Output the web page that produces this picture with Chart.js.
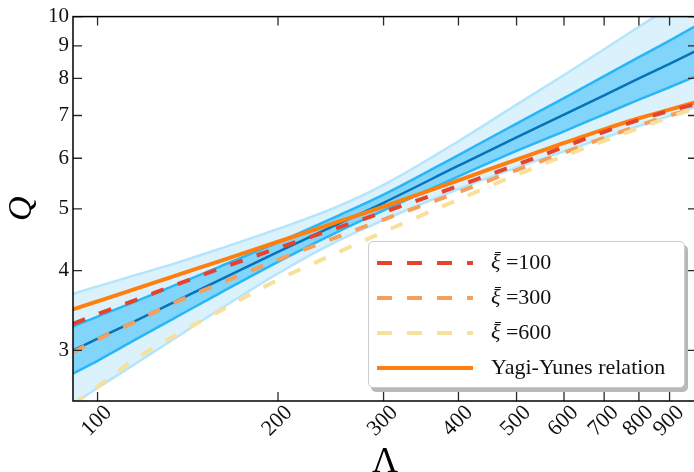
<!DOCTYPE html>
<html>
<head>
<meta charset="utf-8">
<script src="https://cdn.jsdelivr.net/npm/chart.js@4.4.1/dist/chart.umd.min.js"></script>
<style>
html,body{margin:0;padding:0;background:#fff;overflow:hidden;width:694px;height:472px;}
#wrap{position:absolute;left:0;top:0;width:700px;height:472px;}
#legend{position:absolute;left:368px;top:241px;width:317px;height:147px;box-sizing:border-box;border:1px solid #cccccc;border-radius:5px;background:#fff;box-shadow:3px 4px 0 #b8b8b8;font-family:"Liberation Serif","Times New Roman",serif;font-size:22px;color:#111;}
.lrow{position:absolute;left:0;width:100%;height:30px;}
.lrow svg{position:absolute;left:8px;top:11px;}
.lrow span.t{position:absolute;left:122px;top:0px;white-space:nowrap;line-height:28px;}
.xi{position:relative;display:inline-block;}
.xi .bar{position:absolute;left:4px;top:4px;width:6px;height:1.4px;background:#111;}
</style>
</head>
<body>
<div id="wrap"><canvas id="c"></canvas></div>
<div id="legend"></div>
<script>
// ---- data ----
const lam = [91, 100, 115, 135, 160, 200, 250, 300, 400, 500, 600, 700, 800, 900, 1000];
const qCenter     = [3.00, 3.13, 3.33, 3.58, 3.87, 4.28, 4.72, 5.11, 5.84, 6.47, 7.02, 7.53, 8.00, 8.43, 8.85];
const qInnerUpper = [3.27, 3.39, 3.57, 3.80, 4.06, 4.43, 4.86, 5.26, 6.07, 6.80, 7.45, 8.07, 8.64, 9.17, 9.69];
const qInnerLower = [2.76, 2.89, 3.11, 3.38, 3.69, 4.13, 4.59, 4.97, 5.62, 6.16, 6.61, 7.03, 7.41, 7.75, 8.08];
const qOuterUpper = [3.68, 3.78, 3.93, 4.11, 4.33, 4.65, 5.03, 5.45, 6.38, 7.28, 8.10, 8.89, 9.64, 10.34, 11.04];
const qOuterLower = [2.47, 2.62, 2.85, 3.14, 3.48, 3.96, 4.44, 4.80, 5.37, 5.80, 6.15, 6.46, 6.74, 6.99, 7.23];
const qYagiYunes  = [3.48, 3.58, 3.74, 3.93, 4.14, 4.44, 4.76, 5.04, 5.54, 5.97, 6.34, 6.66, 6.93, 7.15, 7.35];
const qXi100      = [3.30, 3.42, 3.59, 3.80, 4.03, 4.34, 4.66, 4.94, 5.43, 5.86, 6.25, 6.60, 6.89, 7.12, 7.30];
const qXi300      = [2.98, 3.12, 3.32, 3.57, 3.82, 4.16, 4.51, 4.81, 5.31, 5.75, 6.12, 6.46, 6.75, 7.00, 7.20];
const qXi600      = [2.47, 2.63, 2.90, 3.17, 3.46, 3.87, 4.26, 4.60, 5.17, 5.65, 6.05, 6.39, 6.69, 6.96, 7.20];
const xTicks = [100, 200, 300, 400, 500, 600, 700, 800, 900];
const yTicks = [3, 4, 5, 6, 7, 8, 9, 10];
const legendLabels = ['\u03BE\u0304 =100', '\u03BE\u0304 =300', '\u03BE\u0304 =600', 'Yagi-Yunes relation'];

const pts = arr => lam.map((l, i) => ({x: l, y: arr[i]}));
const serif = '"Liberation Serif","Times New Roman",serif';

function line(data, color, width, order, extra) {
  return Object.assign({
    data: pts(data), borderColor: color, borderWidth: width, pointRadius: 0,
    fill: false, order: order, cubicInterpolationMode: 'monotone'
  }, extra || {});
}

const datasets = [
  line(qOuterUpper, '#b3e5fc', 2.5, 90, {fill: '+1', backgroundColor: '#dbf1fc'}),
  line(qOuterLower, '#b3e5fc', 2.5, 89),
  line(qInnerUpper, '#29b6f6', 2.5, 80, {fill: '+1', backgroundColor: '#81d4fa'}),
  line(qInnerLower, '#29b6f6', 2.5, 79),
  line(qCenter, '#0672b8', 2.5, 70),
  line(qYagiYunes, '#ff7f0e', 4, 60, {label: legendLabels[3], legendRank: 3}),
  line(qXi100, '#e5432d', 4, 50, {borderDash: [13, 15], label: legendLabels[0], legendRank: 0}),
  line(qXi300, '#f5a05a', 4, 40, {borderDash: [13, 15], label: legendLabels[1], legendRank: 1}),
  line(qXi600, '#f8df9a', 4, 30, {borderDash: [13, 15], label: legendLabels[2], legendRank: 2})
];

const frameTicks = {
  id: 'frameTicks',
  afterDatasetsDraw(chart) {
    const {ctx, chartArea: {left, right, top, bottom}, scales: {x, y}} = chart;
    ctx.save();
    ctx.strokeStyle = '#2a2a2a';
    ctx.lineWidth = 1.3;
    ctx.beginPath();
    xTicks.forEach(v => {
      const p = x.getPixelForValue(v);
      ctx.moveTo(p, bottom); ctx.lineTo(p, bottom - 9);
      ctx.moveTo(p, top); ctx.lineTo(p, top + 9);
    });
    yTicks.forEach(v => {
      const p = y.getPixelForValue(v);
      ctx.moveTo(left, p); ctx.lineTo(left + 9, p);
      ctx.moveTo(right, p); ctx.lineTo(right - 9, p);
    });
    ctx.stroke();
    ctx.strokeStyle = '#000';
    ctx.lineWidth = 1.5;
    ctx.strokeRect(left, top, right - left, bottom - top);
    ctx.restore();
  }
};

const htmlLegend = {
  id: 'htmlLegend',
  afterUpdate(chart) {
    const box = document.getElementById('legend');
    box.innerHTML = '';
    const items = chart.data.datasets.filter(d => d.label).sort((a, b) => a.legendRank - b.legendRank);
    items.forEach((d, i) => {
      const row = document.createElement('div');
      row.className = 'lrow';
      row.style.top = (6 + i * 35) + 'px';
      const dash = d.borderDash ? 'stroke-dasharray="15 15"' : '';
      row.innerHTML = '<svg width="98" height="8"><line x1="0" y1="4" x2="96" y2="4" stroke="' + d.borderColor +
        '" stroke-width="' + d.borderWidth + '" ' + dash + '/></svg>';
      const t = document.createElement('span');
      t.className = 't';
      if (d.label.charAt(0) === '\u03BE') {
        const xi = document.createElement('span');
        xi.className = 'xi';
        const it = document.createElement('i');
        it.textContent = '\u03BE';
        const bar = document.createElement('b');
        bar.className = 'bar';
        xi.appendChild(it);
        xi.appendChild(bar);
        t.appendChild(xi);
        t.appendChild(document.createTextNode(d.label.slice(2)));
      } else {
        t.textContent = d.label;
      }
      row.appendChild(t);
      box.appendChild(row);
    });
  }
};

new Chart(document.getElementById('c'), {
  type: 'line',
  data: {datasets: datasets},
  plugins: [frameTicks, htmlLegend],
  options: {
    responsive: true,
    maintainAspectRatio: false,
    animation: false,
    devicePixelRatio: 1,
    layout: {padding: {top: 13, right: 3, left: 0, bottom: 0}},
    plugins: {legend: {display: false}, tooltip: {enabled: false}},
    scales: {
      x: {
        type: 'logarithmic', min: 91, max: 1000,
        afterBuildTicks: s => { s.ticks = xTicks.map(v => ({value: v})); },
        afterFit: s => { s.height = 71; },
        grid: {display: false, drawTicks: false},
        border: {display: false},
        ticks: {
          autoSkip: false, minRotation: 45, maxRotation: 45, padding: -1, labelOffset: 11,
          color: '#111', font: {family: serif, size: 22},
          callback: v => String(v)
        },
        title: {display: true, text: '\u039B', color: '#000',
          font: {family: serif, size: 36, lineHeight: 1}, padding: {top: 0, bottom: -9}}
      },
      y: {
        type: 'logarithmic', min: 2.5, max: 10,
        afterBuildTicks: s => { s.ticks = yTicks.map(v => ({value: v})); },
        afterFit: s => { s.width = 73; },
        grid: {display: false, drawTicks: false},
        border: {display: false},
        ticks: {
          autoSkip: false, padding: 4, color: '#111', font: {family: serif, size: 21},
          callback: v => String(v)
        },
        title: {display: true, text: 'Q', color: '#000',
          font: {family: serif, size: 34, style: 'italic', lineHeight: 1}, padding: {top: 5, bottom: 0}}
      }
    }
  }
});
</script>
</body>
</html>
